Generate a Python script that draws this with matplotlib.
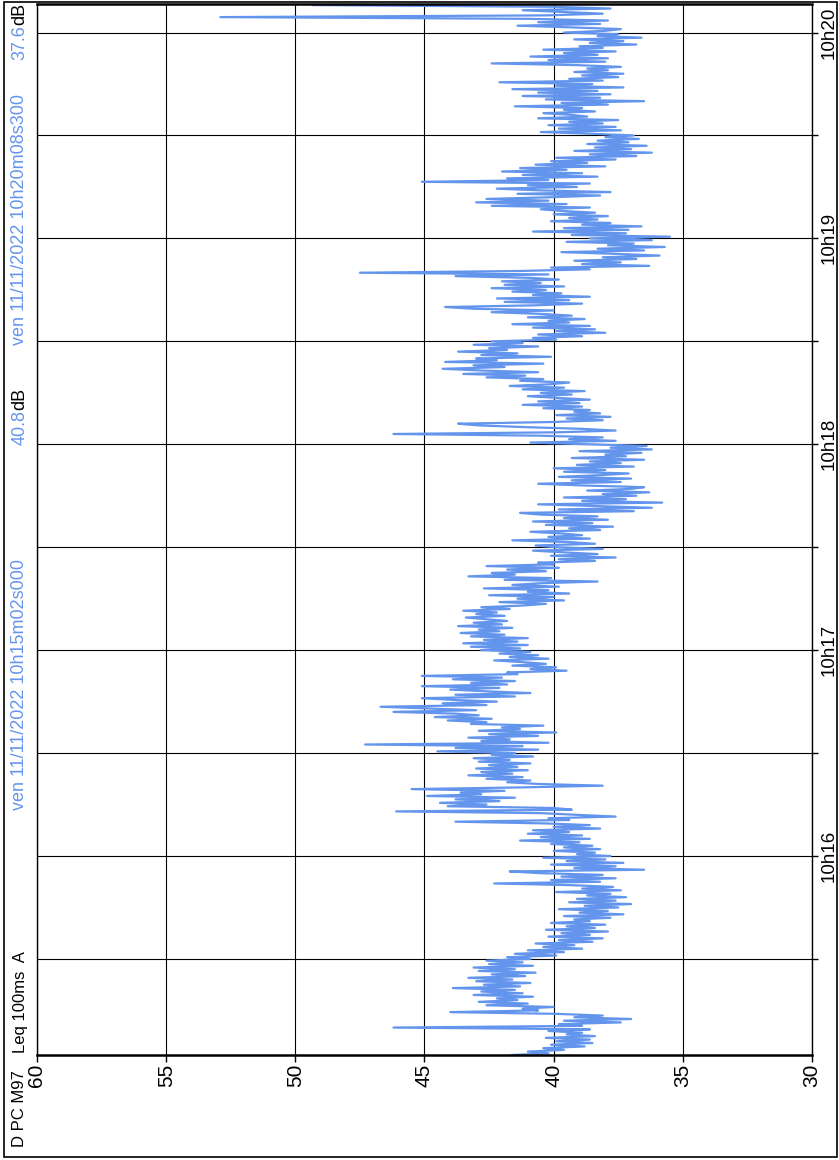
import matplotlib.pyplot as plt
from matplotlib.patches import Rectangle
import numpy as np

plt.rcParams['font.family'] = ['Liberation Sans', 'DejaVu Sans']

# Leq 100ms (A) trace, every 0.5 s from 10h15m02s
start_min = 15 + 2 / 60
step_s = 0.5
leq_db = [
    41.6, 40.2, 41.0, 39.6, 40.4, 38.8, 40.1, 38.5, 39.9, 38.6, 40.3, 38.4, 39.5, 38.9, 40.2, 38.6, 46.2, 38.9, 39.8, 37.4,
    39.6, 37.0, 39.2, 38.1, 39.9, 44.0, 40.6, 41.2, 40.0, 42.6, 41.0, 42.9, 41.4, 42.2, 40.8, 43.1, 41.2, 42.8, 41.5, 43.9,
    41.3, 42.7, 40.9, 43.0, 41.6, 43.3, 41.1, 42.4, 40.7, 42.9, 41.5, 43.1, 40.8, 42.5, 41.2, 42.6, 40.9, 41.8, 39.9, 41.5,
    39.6, 41.0, 38.9, 40.4, 39.2, 40.7, 38.5, 39.8, 38.1, 40.2, 38.6, 39.7, 37.9, 40.3, 38.4, 39.5, 38.0, 40.1, 38.6, 39.2,
    37.8, 39.6, 37.3, 39.0, 37.9, 39.8, 37.5, 38.8, 37.0, 39.4, 37.6, 39.1, 37.2, 38.7, 37.8, 39.9, 37.4, 38.9, 37.7, 39.3,
    42.3, 38.2, 40.1, 37.6, 39.7, 38.1, 40.5, 41.7, 36.5, 39.2, 37.6, 40.1, 37.3, 39.5, 38.0, 40.4, 37.8, 39.1, 38.4, 40.0,
    38.2, 39.6, 38.5, 40.1, 39.0, 41.3, 38.6, 40.5, 38.9, 41.0, 39.4, 40.8, 38.2, 40.0, 38.6, 40.3, 43.8, 39.4, 40.2, 37.6,
    39.1, 40.5, 46.1, 39.3, 40.0, 44.1, 42.6, 44.4, 42.1, 43.8, 41.5, 44.9, 42.8, 43.6, 41.9, 45.5, 41.2, 38.1, 40.6, 41.8,
    40.9, 42.6, 41.2, 43.3, 41.6, 42.8, 41.0, 43.0, 41.4, 42.5, 40.9, 42.9, 41.7, 43.1, 40.8, 42.4, 41.5, 44.5, 40.6, 43.8,
    41.2, 47.3, 40.2, 42.8, 41.7, 43.3, 40.6, 42.5, 39.9, 42.9, 41.3, 42.0, 40.4, 43.2, 42.6, 44.1, 42.4, 44.6, 42.9, 43.8,
    46.2, 43.0, 44.8, 46.7, 42.6, 44.3, 42.2, 43.9, 45.1, 41.5, 43.8, 40.9, 42.6, 44.0, 42.1, 45.1, 41.8, 43.2, 41.5, 43.9,
    42.0, 45.1, 41.4, 41.8, 39.5, 40.9, 39.9, 41.6, 40.3, 41.2, 42.3, 40.2, 41.7, 40.6, 42.1, 40.9, 42.8, 41.3, 43.2, 41.0,
    43.5, 41.4, 42.7, 41.0, 43.2, 41.9, 43.6, 42.1, 42.9, 41.6, 43.7, 42.0, 43.1, 41.8, 42.6, 43.4, 41.9, 43.0, 42.2, 43.5,
    41.7, 42.8, 41.2, 40.3, 42.1, 39.6, 41.4, 40.0, 42.5, 39.4, 41.0, 40.2, 42.7, 39.8, 41.6, 40.5, 38.3, 41.9, 40.1, 43.3,
    41.5, 42.4, 40.3, 41.8, 39.8, 42.6, 40.0, 40.6, 38.4, 39.8, 37.6, 40.1, 38.3, 39.6, 40.8, 38.1, 39.9, 40.7, 38.4, 39.4,
    41.6, 38.6, 40.2, 38.9, 39.7, 40.9, 38.2, 39.4, 37.7, 40.3, 38.5, 40.8, 37.9, 39.6, 38.3, 40.5, 41.3, 36.9, 39.8, 36.2,
    38.4, 40.6, 35.8, 38.9, 37.2, 39.6, 36.8, 38.1, 36.3, 38.7, 37.0, 36.5, 38.9, 40.6, 37.4, 39.3, 37.0, 39.8, 38.2, 37.1,
    39.6, 38.0, 40.0, 36.9, 39.1, 37.4, 38.6, 36.5, 39.3, 37.2, 38.0, 36.6, 39.0, 36.2, 37.8, 36.4, 38.7, 40.9, 37.6, 39.4,
    38.1, 40.5, 46.2, 39.8, 37.6, 38.9, 41.1, 42.9, 43.7, 40.0, 38.1, 39.5, 37.8, 39.9, 38.2, 39.2, 38.6, 40.4, 38.9, 41.2,
    39.0, 40.6, 38.6, 39.8, 41.0, 39.3, 40.5, 38.8, 41.2, 39.6, 41.7, 40.1, 39.4, 41.3, 40.4, 42.6, 41.1, 43.5, 40.6, 42.8,
    44.3, 41.9, 43.1, 40.4, 44.2, 42.2, 43.0, 40.1, 42.8, 41.4, 43.7, 41.8, 42.5, 40.6, 43.1, 41.2, 42.4, 39.9, 40.8, 38.9,
    40.6, 38.0, 39.9, 38.4, 40.8, 38.6, 41.6, 39.4, 40.2, 38.8, 41.0, 39.3, 40.5, 42.4, 40.0, 43.1, 44.2, 40.7, 38.9, 41.9,
    39.4, 42.2, 38.6, 40.8, 39.7, 41.6, 40.3, 42.4, 39.6, 41.9, 40.5, 42.0, 39.8, 40.9, 43.8, 40.2, 47.5, 41.3, 38.6, 40.1,
    36.3, 38.9, 37.4, 39.2, 36.8, 38.1, 35.9, 37.6, 39.7, 36.5, 38.3, 35.7, 37.9, 36.9, 39.5, 36.2, 38.6, 35.5, 39.3, 37.2,
    40.8, 37.1, 39.6, 36.6, 38.9, 37.8, 40.1, 38.3, 39.4, 37.9, 40.0, 38.4, 39.7, 40.5, 38.6, 42.4, 39.5, 43.0, 40.2, 42.6,
    40.1, 38.2, 41.4, 37.8, 40.5, 42.2, 39.1, 41.0, 38.6, 45.1, 40.2, 41.8, 38.3, 41.2, 38.9, 42.0, 39.5, 41.3, 38.0, 40.7,
    38.7, 40.1, 37.6, 39.9, 36.8, 38.6, 36.2, 39.2, 37.0, 38.4, 36.4, 38.7, 37.1, 38.3, 36.7, 38.0, 36.9, 38.5, 40.5, 37.4,
    39.8, 37.6, 40.2, 38.1, 39.4, 37.5, 40.6, 38.7, 39.3, 40.4, 38.4, 39.6, 38.9, 41.5, 37.9, 39.7, 36.5, 40.3, 38.2, 41.2,
    37.8, 40.6, 38.3, 41.6, 37.3, 39.9, 38.5, 42.1, 38.1, 39.4, 37.5, 38.9, 37.3, 39.2, 37.9, 38.7, 37.4, 39.1, 42.4, 38.0,
    40.2, 37.9, 40.9, 38.3, 39.6, 37.6, 40.4, 38.1, 39.0, 36.8, 38.6, 37.3, 39.2, 36.6, 38.3, 37.5, 39.6, 38.0, 37.4, 39.3,
    41.4, 38.2, 40.6, 37.9, 41.0, 52.9, 40.3, 38.1, 39.7, 41.2, 37.8, 40.0, 49.3,
]

db_ticks = [60, 55, 50, 45, 40, 35, 30]
minute_ticks = [16, 17, 18, 19, 20]
minute_labels = ['10h16', '10h17', '10h18', '10h19', '10h20']
half_ticks = [15.5, 16.5, 17.5, 18.5, 19.5]
end_min = 20 + 8.3 / 60

blue = '#6495ED'

t = start_min + np.arange(len(leq_db)) * step_s / 60

fig = plt.figure(figsize=(8.39, 11.6), dpi=100)
ax = fig.add_axes([0.0441, 0.0905, 0.9237, 0.906])

ax.plot(leq_db, t, color=blue, lw=1.6)

ax.set_xlim(60, 30)
ax.set_ylim(start_min, end_min)

ax.set_xticks(db_ticks)
ax.set_xticklabels([str(v) for v in db_ticks], rotation=90, fontsize=15)
ax.tick_params(axis='x', direction='out', length=5, width=1, pad=1)

ax.yaxis.tick_right()
ax.set_yticks(minute_ticks)
ax.set_yticklabels(minute_labels, rotation=90, va='center', fontsize=13.5)
ax.set_yticks(half_ticks, minor=True)
ax.tick_params(axis='y', which='both', direction='out', length=4.5, width=1, pad=1.5)

ax.grid(which='both', color='black', lw=0.8)

for side in ['left', 'right']:
    ax.spines[side].set_linewidth(1.0)
ax.spines['bottom'].set_linewidth(1.8)
ax.spines['top'].set_linewidth(1.8)

# outer frame
fig.patches.append(Rectangle((4 / 839, 3 / 1160), 833 / 839, 1155 / 1160,
                             transform=fig.transFigure, fill=False,
                             edgecolor='black', lw=1.2))

# header column (rotated, reads bottom to top)
kw = dict(rotation=90, rotation_mode='anchor', ha='left', va='center')
xc = 20 / 839
fig.text(xc, 13 / 1160, 'D PC M97', fontsize=12, color='black', **kw)
fig.text(xc, 107 / 1160, 'Leq 100ms  A', fontsize=12, color='black', **kw)
fig.text(xc, 350 / 1160, 'ven 11/11/2022 10h15m02s000', fontsize=13, color=blue, **kw)
v1 = fig.text(xc, 715 / 1160, '40.8', fontsize=13, color=blue, **kw)
fig.text(xc, 815 / 1160, 'ven 11/11/2022 10h20m08s300', fontsize=13, color=blue, **kw)
v2 = fig.text(xc, 1100 / 1160, '37.6', fontsize=13, color=blue, **kw)
for v in (v1, v2):
    ax.annotate('dB', xy=(0.5, 1), xycoords=v, fontsize=13, color='black',
                annotation_clip=False, **kw)

fig.savefig('out.png', dpi=100)
